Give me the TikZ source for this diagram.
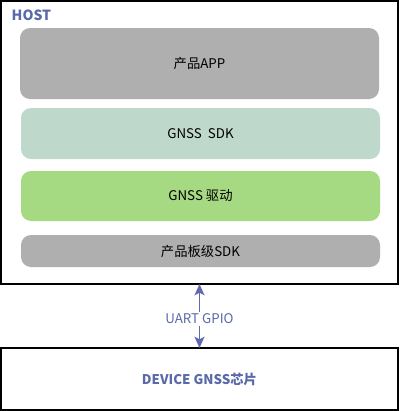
\documentclass[tikz,border=0pt]{standalone}
\usepackage{fontspec}
\setmainfont{Noto Sans CJK SC}
\usepackage{tikz}
\usetikzlibrary{arrows.meta}
\definecolor{layer_gray}{RGB}{175,175,175}
\definecolor{layer_mint}{RGB}{190,217,204}
\definecolor{layer_green}{RGB}{166,218,130}
\definecolor{text_blue}{RGB}{90,105,170}
\definecolor{edge_blue}{RGB}{95,105,175}

\begin{document}
\begin{tikzpicture}[x=0.75pt,y=-0.75pt,>={Stealth[length=8.5pt,width=7.5pt,inset=2pt]}]
    \tikzstyle{frame}=[draw=black, line width=1.5pt, fill=white, inner sep=0pt, outer sep=0pt, minimum width=297.75pt]
    \tikzstyle{layer}=[draw=none, rounded corners=7.5pt, inner sep=0pt, minimum width=269.25pt, text=black, font=\fontsize{10pt}{12pt}\selectfont]
    \tikzstyle{layergray}=[style=layer, fill=layer_gray]
    \tikzstyle{layermint}=[style=layer, fill=layer_mint]
    \tikzstyle{layergreen}=[style=layer, fill=layer_green]
    \tikzstyle{bluelabel}=[text=text_blue, font=\fontsize{10pt}{12pt}\selectfont]

    \useasboundingbox (0,0) rectangle (406,411);

    \node[frame, minimum height=212.25pt] (host) at (199.5,142.5) {};
    \node[bluelabel, font=\fontsize{10.5pt}{12pt}\selectfont\bfseries, anchor=north west] (hostlbl) at (7,5) {HOST};

    \node[layergray,  minimum height=53.25pt] (app)   at (199.5,63.5) {产品APP};
    \node[layermint,  minimum height=38.25pt] (sdk)   at (200.5,133.5) {GNSS\ \ SDK};
    \node[layergreen, minimum height=37.5pt]  (drv)   at (200.5,196) {GNSS 驱动};
    \node[layergray,  minimum height=24pt]    (board) at (200.5,251) {产品板级SDK};

    \node[frame, minimum height=46.5pt] (dev) at (199.5,379) {};
    \node[bluelabel, font=\fontsize{10pt}{12pt}\selectfont\bfseries] (devlbl) at (dev.center) {DEVICE GNSS芯片};

    \node[bluelabel, fill=white, inner sep=1pt] (bus) at (199.5,319) {UART GPIO};

    \path[->, edge_blue, line width=1.3pt]
     (bus) edge (host.south)
     (bus) edge (dev.north);
\end{tikzpicture}
\end{document}
